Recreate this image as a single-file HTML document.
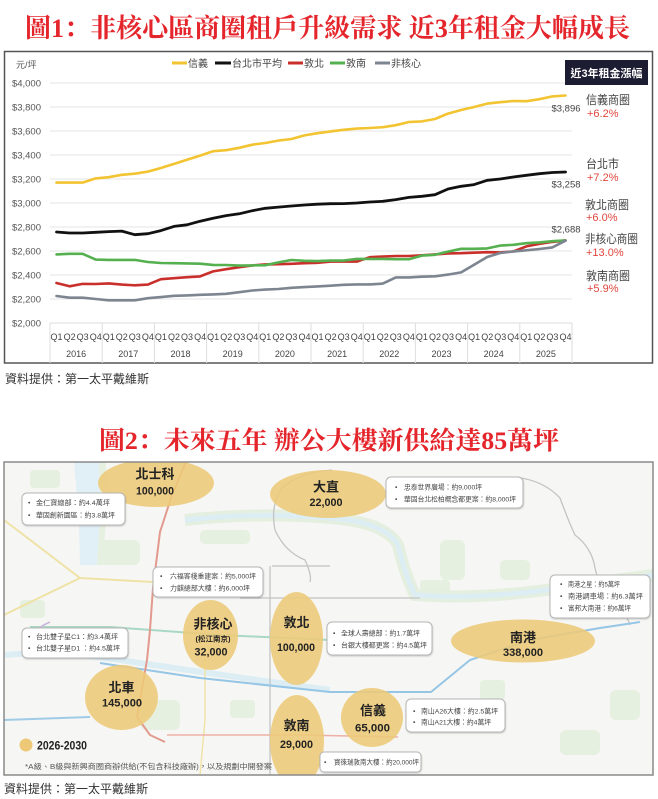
<!DOCTYPE html>
<html>
<head>
<meta charset="utf-8">
<style>
  html,body{margin:0;padding:0;background:#fff;}
  svg{display:block;}
  .sans{font-family:"Liberation Sans","Noto Sans CJK TC","Noto Sans CJK SC",sans-serif;}
  .serif{font-family:"Liberation Serif","Noto Serif CJK SC",serif;}
</style>
</head>
<body>
<svg width="658" height="799" viewBox="0 0 658 799" xmlns="http://www.w3.org/2000/svg">
  <defs>
    <clipPath id="mapclip"><rect x="4" y="462" width="649" height="313"/></clipPath>
    <filter id="sh" x="-10%" y="-20%" width="120%" height="150%">
      <feDropShadow dx="0.5" dy="1" stdDeviation="0.8" flood-color="#000" flood-opacity="0.18"/>
    </filter>
  </defs>
  <rect width="658" height="799" fill="#fff"/>

  <!-- Title 1 -->
  <text class="serif" x="25" y="37" font-size="26" font-weight="bold" fill="#e4262c" textLength="605" lengthAdjust="spacingAndGlyphs">圖1：非核心區商圈租戶升級需求 近3年租金大幅成長</text>

  <!-- Chart frame -->
  <rect x="4.5" y="51.5" width="648" height="311.5" fill="#fff" stroke="#555" stroke-width="1.5"/>

  <!-- Gridlines -->
  <g stroke="#e6e6e6" stroke-width="1">
    <line x1="50" y1="83" x2="572" y2="83"/>
    <line x1="50" y1="107" x2="572" y2="107"/>
    <line x1="50" y1="131" x2="572" y2="131"/>
    <line x1="50" y1="155" x2="572" y2="155"/>
    <line x1="50" y1="179" x2="572" y2="179"/>
    <line x1="50" y1="203" x2="572" y2="203"/>
    <line x1="50" y1="227" x2="572" y2="227"/>
    <line x1="50" y1="251" x2="572" y2="251"/>
    <line x1="50" y1="275" x2="572" y2="275"/>
    <line x1="50" y1="299" x2="572" y2="299"/>
    <line x1="50" y1="323" x2="572" y2="323" stroke="#dcdcdc"/>
  </g>
  <!-- Year separators -->
  <g stroke="#dedede" stroke-width="1">
    <line x1="50" y1="323" x2="50" y2="363"/>
    <line x1="102.2" y1="323" x2="102.2" y2="363"/>
    <line x1="154.4" y1="323" x2="154.4" y2="363"/>
    <line x1="206.6" y1="323" x2="206.6" y2="363"/>
    <line x1="258.8" y1="323" x2="258.8" y2="363"/>
    <line x1="311" y1="323" x2="311" y2="363"/>
    <line x1="363.2" y1="323" x2="363.2" y2="363"/>
    <line x1="415.4" y1="323" x2="415.4" y2="363"/>
    <line x1="467.6" y1="323" x2="467.6" y2="363"/>
    <line x1="519.8" y1="323" x2="519.8" y2="363"/>
    <line x1="572" y1="323" x2="572" y2="363"/>
  </g>

  <!-- Y labels -->
  <g class="sans" font-size="9.5" fill="#555" text-anchor="end">
    <text x="16" y="68" text-anchor="start" font-size="9">元/坪</text>
    <text x="41" y="86.5">$4,000</text>
    <text x="41" y="110.5">$3,800</text>
    <text x="41" y="134.5">$3,600</text>
    <text x="41" y="158.5">$3,400</text>
    <text x="41" y="182.5">$3,200</text>
    <text x="41" y="206.5">$3,000</text>
    <text x="41" y="230.5">$2,800</text>
    <text x="41" y="254.5">$2,600</text>
    <text x="41" y="278.5">$2,400</text>
    <text x="41" y="302.5">$2,200</text>
    <text x="41" y="326.5">$2,000</text>
  </g>

  <!-- X quarter labels -->
  <g class="sans" font-size="9" fill="#444" text-anchor="middle">
    <text x="56.5" y="340">Q1</text><text x="69.6" y="340">Q2</text><text x="82.6" y="340">Q3</text><text x="95.7" y="340">Q4</text>
    <text x="108.7" y="340">Q1</text><text x="121.8" y="340">Q2</text><text x="134.8" y="340">Q3</text><text x="147.9" y="340">Q4</text>
    <text x="160.9" y="340">Q1</text><text x="174.0" y="340">Q2</text><text x="187.0" y="340">Q3</text><text x="200.1" y="340">Q4</text>
    <text x="213.1" y="340">Q1</text><text x="226.2" y="340">Q2</text><text x="239.2" y="340">Q3</text><text x="252.3" y="340">Q4</text>
    <text x="265.3" y="340">Q1</text><text x="278.4" y="340">Q2</text><text x="291.4" y="340">Q3</text><text x="304.5" y="340">Q4</text>
    <text x="317.5" y="340">Q1</text><text x="330.6" y="340">Q2</text><text x="343.6" y="340">Q3</text><text x="356.7" y="340">Q4</text>
    <text x="369.7" y="340">Q1</text><text x="382.8" y="340">Q2</text><text x="395.8" y="340">Q3</text><text x="408.9" y="340">Q4</text>
    <text x="421.9" y="340">Q1</text><text x="435.0" y="340">Q2</text><text x="448.0" y="340">Q3</text><text x="461.1" y="340">Q4</text>
    <text x="474.1" y="340">Q1</text><text x="487.2" y="340">Q2</text><text x="500.2" y="340">Q3</text><text x="513.3" y="340">Q4</text>
    <text x="526.3" y="340">Q1</text><text x="539.4" y="340">Q2</text><text x="552.4" y="340">Q3</text><text x="565.5" y="340">Q4</text>
  </g>
  <g class="sans" font-size="9" fill="#444" text-anchor="middle">
    <text x="76.1" y="357">2016</text><text x="128.3" y="357">2017</text><text x="180.5" y="357">2018</text>
    <text x="232.7" y="357">2019</text><text x="284.9" y="357">2020</text><text x="337.1" y="357">2021</text>
    <text x="389.3" y="357">2022</text><text x="441.5" y="357">2023</text><text x="493.7" y="357">2024</text>
    <text x="545.9" y="357">2025</text>
  </g>

  <!-- Legend -->
  <g stroke-width="3">
    <line x1="172" y1="63" x2="187" y2="63" stroke="#f3c432"/>
    <line x1="215" y1="63" x2="231" y2="63" stroke="#111"/>
    <line x1="288" y1="63" x2="303" y2="63" stroke="#c9302c"/>
    <line x1="330" y1="63" x2="345" y2="63" stroke="#55b04f"/>
    <line x1="375" y1="63" x2="390" y2="63" stroke="#7d8591"/>
  </g>
  <g class="sans" font-size="10" fill="#444">
    <text x="188" y="67">信義</text>
    <text x="232" y="67">台北市平均</text>
    <text x="304" y="67">敦北</text>
    <text x="346" y="67">敦南</text>
    <text x="391" y="67">非核心</text>
  </g>

  <!-- Series -->
  <g fill="none" stroke-width="2.6" stroke-linejoin="round" stroke-linecap="round">
    <polyline stroke="#f3c432" points="56.5,182.6 69.6,182.6 82.6,182.6 95.7,178.4 108.7,177.2 121.8,174.8 134.8,173.7 147.9,171.6 160.9,168.0 174.0,163.9 187.0,159.8 200.1,155.6 213.1,151.2 226.2,150.2 239.2,147.8 252.3,144.7 265.3,143.0 278.4,140.6 291.4,139.0 304.5,135.4 317.5,133.2 330.6,131.4 343.6,129.8 356.7,128.6 369.7,128.0 382.8,127.2 395.8,125.2 408.9,122.0 421.9,121.4 435.0,119.0 448.0,113.6 461.1,110.0 474.1,107.0 487.2,103.6 500.2,102.2 513.3,101.0 526.3,101.2 539.4,99.2 552.4,96.4 565.5,95.5"/>
    <polyline stroke="#111" stroke-width="2.8" points="56.5,232.0 69.6,233.0 82.6,233.0 95.7,232.3 108.7,231.6 121.8,231.1 134.8,234.7 147.9,233.7 160.9,230.6 174.0,226.4 187.0,224.8 200.1,221.2 213.1,218.2 226.2,215.6 239.2,213.8 252.3,210.7 265.3,208.3 278.4,207.1 291.4,206.0 304.5,205.0 317.5,204.2 330.6,203.7 343.6,203.6 356.7,203.0 369.7,202.0 382.8,201.3 395.8,199.6 408.9,197.4 421.9,196.3 435.0,194.7 448.0,189.0 461.1,186.3 474.1,184.6 487.2,180.3 500.2,179.0 513.3,177.0 526.3,175.3 539.4,173.7 552.4,172.5 565.5,172.0"/>
    <polyline stroke="#c9302c" points="56.5,283.0 69.6,286.3 82.6,283.9 95.7,284.0 108.7,283.4 121.8,284.6 134.8,285.3 147.9,284.6 160.9,279.2 174.0,278.2 187.0,277.2 200.1,276.4 213.1,271.4 226.2,269.2 239.2,267.2 252.3,265.4 265.3,264.4 278.4,264.2 291.4,263.8 304.5,263.2 317.5,262.8 330.6,261.6 343.6,261.6 356.7,261.6 369.7,257.2 382.8,256.5 395.8,256.0 408.9,256.0 421.9,255.3 435.0,254.4 448.0,253.4 461.1,253.2 474.1,252.7 487.2,252.2 500.2,252.4 513.3,251.5 526.3,246.4 539.4,243.8 552.4,241.9 565.5,240.4"/>
    <polyline stroke="#55b04f" points="56.5,254.4 69.6,253.8 82.6,253.8 95.7,259.6 108.7,259.9 121.8,259.9 134.8,259.9 147.9,262.0 160.9,263.0 174.0,263.2 187.0,263.4 200.1,263.7 213.1,264.9 226.2,265.0 239.2,265.6 252.3,265.4 265.3,265.2 278.4,262.4 291.4,260.0 304.5,260.8 317.5,261.1 330.6,260.6 343.6,260.6 356.7,258.9 369.7,258.9 382.8,258.9 395.8,259.2 408.9,259.2 421.9,255.6 435.0,254.8 448.0,251.6 461.1,248.8 474.1,248.8 487.2,248.4 500.2,245.6 513.3,244.8 526.3,243.2 539.4,242.4 552.4,241.2 565.5,240.4"/>
    <polyline stroke="#7d8591" points="56.5,296.0 69.6,297.7 82.6,297.7 95.7,299.0 108.7,300.3 121.8,300.3 134.8,300.3 147.9,298.2 160.9,297.1 174.0,295.8 187.0,295.4 200.1,294.8 213.1,294.4 226.2,293.8 239.2,292.2 252.3,290.5 265.3,289.6 278.4,289.0 291.4,287.8 304.5,287.1 317.5,286.4 330.6,285.7 343.6,284.8 356.7,284.4 369.7,284.4 382.8,283.6 395.8,277.4 408.9,277.4 421.9,276.7 435.0,276.3 448.0,274.6 461.1,272.4 474.1,264.7 487.2,257.0 500.2,253.0 513.3,251.4 526.3,250.3 539.4,249.0 552.4,247.4 565.5,240.7"/>
  </g>

  <!-- End value labels -->
  <g class="sans" font-size="9.5" fill="#444" text-anchor="middle">
    <text x="566" y="111.5">$3,896</text>
    <text x="566" y="187.5">$3,258</text>
    <text x="566" y="232.5">$2,688</text>
  </g>

  <!-- Badge -->
  <rect x="565" y="60" width="83" height="25" fill="#1c1c33"/>
  <text class="sans" x="606.5" y="77" font-size="11" font-weight="bold" fill="#fff" text-anchor="middle" textLength="72" lengthAdjust="spacingAndGlyphs">近3年租金漲幅</text>

  <!-- Right labels -->
  <g class="sans" font-size="12" fill="#444">
    <text x="586" y="104" textLength="44" lengthAdjust="spacingAndGlyphs">信義商圈</text>
    <text x="586" y="168" textLength="33" lengthAdjust="spacingAndGlyphs">台北市</text>
    <text x="585" y="209" textLength="44" lengthAdjust="spacingAndGlyphs">敦北商圈</text>
    <text x="585" y="243" textLength="53" lengthAdjust="spacingAndGlyphs">非核心商圈</text>
    <text x="586" y="280" textLength="44" lengthAdjust="spacingAndGlyphs">敦南商圈</text>
  </g>
  <g class="sans" font-size="11" fill="#e0463c">
    <text x="587" y="117">+6.2%</text>
    <text x="587" y="181">+7.2%</text>
    <text x="586" y="221">+6.0%</text>
    <text x="586" y="256">+13.0%</text>
    <text x="587" y="292">+5.9%</text>
  </g>

  <!-- Source 1 -->
  <text class="sans" x="5" y="383" font-size="12" fill="#333">資料提供：第一太平戴維斯</text>

  <!-- Title 2 -->
  <text class="serif" x="99" y="449" font-size="25" font-weight="bold" fill="#e4262c" textLength="460" lengthAdjust="spacingAndGlyphs">圖2：未來五年 辦公大樓新供給達85萬坪</text>

  <!-- MAP -->
  <rect x="4" y="462" width="649" height="313" fill="#f6f6f4"/>
  <g clip-path="url(#mapclip)">
    <!-- green patches -->
    <g fill="#e6f0e0">
      <rect x="30" y="470" width="30" height="18" rx="4"/>
      <rect x="100" y="540" width="40" height="25" rx="6"/>
      <rect x="200" y="530" width="50" height="14" rx="5"/>
      <rect x="440" y="540" width="25" height="40" rx="6"/>
      <rect x="500" y="560" width="30" height="20" rx="5"/>
      <rect x="480" y="680" width="25" height="20" rx="4"/>
      <rect x="610" y="690" width="30" height="30" rx="6"/>
      <rect x="140" y="700" width="40" height="30" rx="6"/>
      <rect x="20" y="600" width="25" height="18" rx="4"/>
      <rect x="560" y="730" width="40" height="25" rx="6"/>
      <rect x="230" y="700" width="25" height="18" rx="4"/>
      <rect x="420" y="580" width="30" height="14" rx="4"/>
    </g>
    <!-- Tamsui river -->
    <path d="M74,462 L99,462 L100,520 L97,565 L80,565 L79,520 Z" fill="#e1eff6"/>
    <path d="M99,462 L106,462 L106,520 L103,565 L97,565 L100,520 Z" fill="#e6f0e0"/>
    <!-- Keelung river -->
    <path d="M185,520 Q260,512 330,518 Q385,522 398,545 Q405,575 415,595 Q480,600 560,588 Q600,582 653,575" fill="none" stroke="#e4efe0" stroke-width="12"/>
    <path d="M185,520 Q260,512 330,518 Q385,522 398,545 Q405,575 415,595 Q480,600 560,588 Q600,582 653,575" fill="none" stroke="#dcedf4" stroke-width="5"/>
    <!-- lower pale blue band -->
    <path d="M5,655 Q60,650 120,660 Q220,675 330,690" fill="none" stroke="#dcedf4" stroke-width="6"/>
    <!-- yellow road -->
    <polyline points="4,520 80,578 153,582" fill="none" stroke="#efe2a6" stroke-width="2"/>
    <polyline points="80,578 4,615" fill="none" stroke="#efe2a6" stroke-width="2"/>
    <polyline points="205,650 205,720 200,775" fill="none" stroke="#f1e4a8" stroke-width="1.5"/>
    <!-- gray boundary lines -->
    <g fill="none" stroke="#c4c4c4" stroke-width="1.3">
      <path d="M332,470 Q300,472 282,488 Q270,505 275,530 Q285,552 305,560 Q312,575 310,582"/>
      <path d="M521,478 Q545,482 560,498 Q568,520 575,535 Q592,548 595,568 Q600,590 610,600 Q625,610 630,625"/>
      <line x1="270" y1="566" x2="270" y2="775"/>
      <line x1="272" y1="566" x2="330" y2="566"/>
      <line x1="240" y1="598" x2="420" y2="598"/>
    </g>
    <!-- teal line -->
    <polyline points="30,627 110,627 220,635 330,640 420,640" fill="none" stroke="#a9d8c4" stroke-width="2"/>
    <!-- blue MRT -->
    <polyline points="4,720 90,717" fill="none" stroke="#9fcbe6" stroke-width="2"/>
    <polyline points="100,663 200,678 330,692 431,692 470,660 530,640 600,628 640,622" fill="none" stroke="#95c6e6" stroke-width="2"/>
    <!-- red MRT -->
    <polyline points="186,462 172,495 160,532 153,588 150,630 147,660 137,717 150,735 165,742" fill="none" stroke="#e39a8e" stroke-width="2"/>
    <polyline points="167,735 300,735 398,737" fill="none" stroke="#eeb0a6" stroke-width="1.5"/>
    <!-- purple line -->
    <path d="M26,642 Q35,628 50,622" fill="none" stroke="#c9b4da" stroke-width="1.5"/>

    <!-- Ellipses -->
    <g fill="#edc977" fill-opacity="0.88">
      <ellipse cx="156" cy="483" rx="58" ry="24"/>
      <ellipse cx="328" cy="494" rx="58" ry="24"/>
      <ellipse cx="210.5" cy="635" rx="27.5" ry="35"/>
      <ellipse cx="296.5" cy="638.5" rx="26.5" ry="46.5"/>
      <ellipse cx="297" cy="741" rx="27" ry="46"/>
      <ellipse cx="121.5" cy="697.5" rx="36.5" ry="32.5"/>
      <ellipse cx="372" cy="717.5" rx="31" ry="29.5"/>
      <ellipse cx="523" cy="641" rx="72" ry="21.5"/>
    </g>
  </g>

  <!-- Ellipse labels -->
  <g class="sans" font-weight="bold" fill="#222" text-anchor="middle">
    <text x="155" y="478.5" font-size="13">北士科</text>
    <text x="155" y="494.5" font-size="11" textLength="38" lengthAdjust="spacingAndGlyphs">100,000</text>
    <text x="326" y="491.5" font-size="13">大直</text>
    <text x="326" y="506" font-size="11" textLength="33" lengthAdjust="spacingAndGlyphs">22,000</text>
    <text x="213" y="628.5" font-size="13">非核心</text>
    <text x="213" y="641.5" font-size="7.5">(松江南京)</text>
    <text x="211" y="655.5" font-size="11" textLength="33" lengthAdjust="spacingAndGlyphs">32,000</text>
    <text x="296.5" y="627" font-size="13">敦北</text>
    <text x="296" y="651" font-size="11" textLength="38" lengthAdjust="spacingAndGlyphs">100,000</text>
    <text x="296.5" y="730" font-size="13">敦南</text>
    <text x="296.5" y="748" font-size="11" textLength="33" lengthAdjust="spacingAndGlyphs">29,000</text>
    <text x="121.5" y="692" font-size="13">北車</text>
    <text x="122" y="706.5" font-size="11" textLength="40" lengthAdjust="spacingAndGlyphs">145,000</text>
    <text x="373" y="715" font-size="13">信義</text>
    <text x="372.5" y="731.5" font-size="11" textLength="35" lengthAdjust="spacingAndGlyphs">65,000</text>
    <text x="523" y="642" font-size="13">南港</text>
    <text x="523" y="656" font-size="11" textLength="40" lengthAdjust="spacingAndGlyphs">338,000</text>
  </g>

  <!-- Info boxes -->
  <g fill="#fff" stroke="#b5b5b5" stroke-width="1" filter="url(#sh)">
    <rect x="22" y="493" width="103" height="32" rx="5"/>
    <rect x="153" y="567" width="110" height="30" rx="5"/>
    <rect x="22" y="628" width="106" height="30" rx="5"/>
    <rect x="386" y="477" width="137" height="31" rx="5"/>
    <rect x="327" y="622" width="105" height="33" rx="5"/>
    <rect x="550" y="575" width="100" height="43" rx="5"/>
    <rect x="406" y="699" width="99" height="33" rx="5"/>
    <rect x="320" y="752" width="101" height="20" rx="4"/>
  </g>
  <g class="sans" font-size="6.8" fill="#444">
    <text x="28" y="505">•</text><text x="36" y="505" textLength="74" lengthAdjust="spacingAndGlyphs">金仁寶總部：約4.4萬坪</text>
    <text x="28" y="517.5">•</text><text x="36" y="517.5" textLength="79" lengthAdjust="spacingAndGlyphs">華固創新園區：約3.8萬坪</text>

    <text x="160" y="578.5">•</text><text x="170" y="578.5" textLength="86" lengthAdjust="spacingAndGlyphs">六福客棧重建案：約5,000坪</text>
    <text x="160" y="590.5">•</text><text x="170" y="590.5" textLength="80" lengthAdjust="spacingAndGlyphs">力麒總部大樓：約6,000坪</text>

    <text x="28" y="639">•</text><text x="36" y="639" textLength="82" lengthAdjust="spacingAndGlyphs">台北雙子星C1：約3.4萬坪</text>
    <text x="28" y="650.5">•</text><text x="36" y="650.5" textLength="84" lengthAdjust="spacingAndGlyphs">台北雙子星D1 ：約4.5萬坪</text>

    <text x="395" y="489.5">•</text><text x="404" y="489.5" textLength="78" lengthAdjust="spacingAndGlyphs">忠泰世界廣場：約9,000坪</text>
    <text x="395" y="501.5">•</text><text x="404" y="501.5" textLength="112" lengthAdjust="spacingAndGlyphs">華固台北松柏概念都更案：約8,000坪</text>

    <text x="333" y="635.5">•</text><text x="341" y="635.5" textLength="79" lengthAdjust="spacingAndGlyphs">全球人壽總部：約1.7萬坪</text>
    <text x="333" y="647.5">•</text><text x="341" y="647.5" textLength="86" lengthAdjust="spacingAndGlyphs">台銀大樓都更案：約4.5萬坪</text>

    <text x="560" y="586.5">•</text><text x="568" y="586.5" textLength="52" lengthAdjust="spacingAndGlyphs">南港之星：約5萬坪</text>
    <text x="560" y="598.5">•</text><text x="568" y="598.5" textLength="75" lengthAdjust="spacingAndGlyphs">南港調車場：約6.3萬坪</text>
    <text x="560" y="610.5">•</text><text x="568" y="610.5" textLength="63" lengthAdjust="spacingAndGlyphs">富邦大南港：約6萬坪</text>

    <text x="413" y="713.5">•</text><text x="421" y="713.5" textLength="77" lengthAdjust="spacingAndGlyphs">南山A26大樓：約2.5萬坪</text>
    <text x="413" y="724.5">•</text><text x="421" y="724.5" textLength="70" lengthAdjust="spacingAndGlyphs">南山A21大樓：約4萬坪</text>

    <text x="324" y="764.5">•</text><text x="334" y="764.5" textLength="85" lengthAdjust="spacingAndGlyphs">寶徠瑞敦南大樓：約20,000坪</text>
  </g>

  <!-- Map legend + footnote -->
  <circle cx="26" cy="745" r="6.5" fill="#edc977"/>
  <text class="sans" x="37" y="749.5" font-size="11.5" font-weight="bold" fill="#222" textLength="50" lengthAdjust="spacingAndGlyphs">2026-2030</text>
  <text class="sans" x="25" y="769" font-size="7.3" fill="#555" textLength="247" lengthAdjust="spacingAndGlyphs">*A級、B級與新興商圈商辦供給(不包含科技廠辦)，以及規劃中開發案</text>

  <!-- Map frame -->
  <rect x="4" y="462" width="649" height="313" fill="none" stroke="#8a8a8a" stroke-width="1.5"/>

  <!-- Source 2 -->
  <text class="sans" x="4" y="793" font-size="12" fill="#333">資料提供：第一太平戴維斯</text>
</svg>
</body>
</html>
